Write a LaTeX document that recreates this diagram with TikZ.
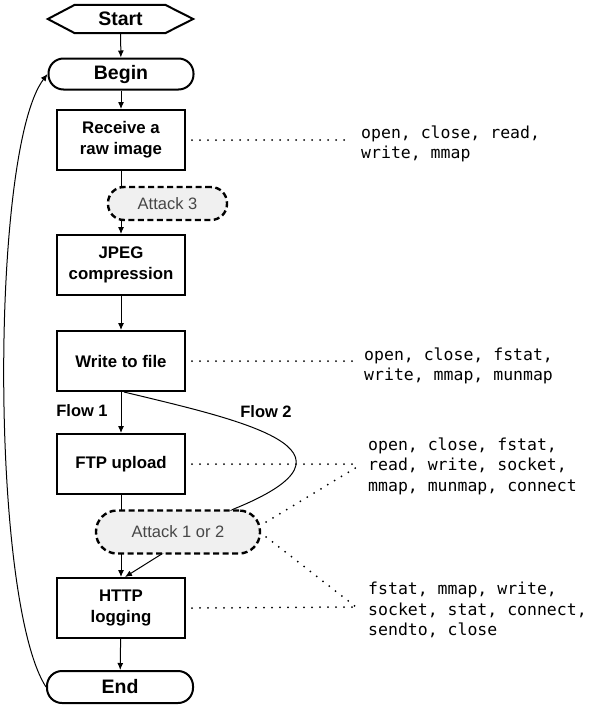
\documentclass[tikz,border=0pt]{standalone}
\usepackage{fontspec}
\setmainfont{Liberation Sans}
\setmonofont{DejaVu Sans Mono}
\usetikzlibrary{arrows.meta,backgrounds}

\begin{document}
\begin{tikzpicture}[x=1pt,y=-1pt,
  proc/.style={draw, line width=2pt, fill=white, minimum width=128pt,
    minimum height=60pt, align=center, inner sep=0pt,
    font=\bfseries\fontsize{16.8}{21}\selectfont},
  term/.style={draw, line width=2pt, fill=white, rounded corners=15pt,
    minimum width=145pt, minimum height=31pt, inner sep=0pt,
    font=\bfseries\fontsize{19.5}{22}\selectfont},
  attack/.style={draw, line width=2.4pt, dash pattern=on 6pt off 3.5pt,
    fill=black!6, text=black!72, inner sep=0pt,
    font=\fontsize{16.5}{20}\selectfont},
  flow/.style={-{Latex[length=7pt,width=6pt]}, line width=1pt},
  calls/.style={line width=2pt, line cap=round, dash pattern=on 0pt off 8pt},
  syscalls/.style={anchor=west, align=left, inner sep=0pt,
    font=\ttfamily\fontsize{16.5}{20.5}\selectfont},
  flowlabel/.style={font=\bfseries\fontsize{16.5}{20}\selectfont, inner sep=0pt}
]
\useasboundingbox (0,0) rectangle (589,707);

% main pipeline
\node[inner sep=0pt, minimum width=145pt, minimum height=28pt,
      font=\bfseries\fontsize{19.5}{22}\selectfont] (start) at (120.5,19) {Start};
\draw[line width=2pt] (start.west) -- ([xshift=27pt]start.north west)
  -- ([xshift=-28pt]start.north east) -- (start.east)
  -- ([xshift=-28pt]start.south east) -- ([xshift=27pt]start.south west) -- cycle;

\node[term] (begin) at (121,74) {Begin};
\node[proc] (recv) at (121,140) {Receive a\\raw image};
\node[attack, rounded corners=16pt, minimum width=119pt, minimum height=33pt]
  (atk3) at (167.5,203.5) {Attack 3};
\node[proc] (jpeg) at (121,265) {JPEG\\compression};
\node[proc] (write) at (121,361) {Write to file};
\node[proc] (ftp) at (121,464) {FTP upload};
\node[attack, rounded corners=21pt, minimum width=164pt, minimum height=43pt]
  (atk12) at (178,532) {Attack 1 or 2};
\node[proc] (http) at (121,608) {HTTP\\logging};
\node[term, minimum width=146pt, minimum height=32pt] (end) at (120,687) {End};

% flow labels
\node[flowlabel] (f1) at (82,411) {Flow 1};
\node[flowlabel] (f2) at (266,412) {Flow 2};

% system call lists
\node[syscalls] (s1) at (361,144) {open, close, read,\\write, mmap};
\node[syscalls] (s2) at (364,366) {open, close, fstat,\\write, mmap, munmap};
\node[syscalls] (s3) at (368,466) {open, close, fstat,\\read, write, socket,\\mmap, munmap, connect};
\node[syscalls] (s4) at (368,610) {fstat, mmap, write,\\socket, stat, connect,\\sendto, close};

\coordinate (h1) at (346,140);
\coordinate (h2) at (352,361);
\coordinate (h3) at (357,464);
\coordinate (h4) at (356,607);
\coordinate (bend) at ([xshift=55pt]atk12.north);

\begin{scope}[on background layer]
  \draw[flow] (start) -- (begin);
  \draw[flow] (begin) -- (recv);
  \draw[flow] (recv) -- (jpeg);
  \draw[flow] (jpeg) -- (write);
  \draw[flow] (write) -- (ftp);
  \draw[flow] (ftp) -- (http);
  \draw[flow] (http) -- (end);
  \draw[flow] ([xshift=3pt]write.south) .. controls (240,420) and (380,450) .. (bend)
    -- ([xshift=4pt]http.north);
  \draw[flow] (end.west) .. controls (-10,600) and (-10,150) .. (begin.west);
\end{scope}

% dotted links to the system calls
\draw[calls] ([xshift=6pt]recv.east) -- (h1);
\draw[calls] ([xshift=6pt]write.east) -- (h2);
\draw[calls] ([xshift=6pt]ftp.east) -- (h3);
\draw[calls] ([xshift=6pt]http.east) -- (h4);
\draw[calls] ([xshift=5pt,yshift=10pt]atk12.east) -- ([yshift=-3pt]h3);
\draw[calls] ([xshift=5pt,yshift=-5pt]atk12.east) -- (h4);
\end{tikzpicture}
\end{document}
